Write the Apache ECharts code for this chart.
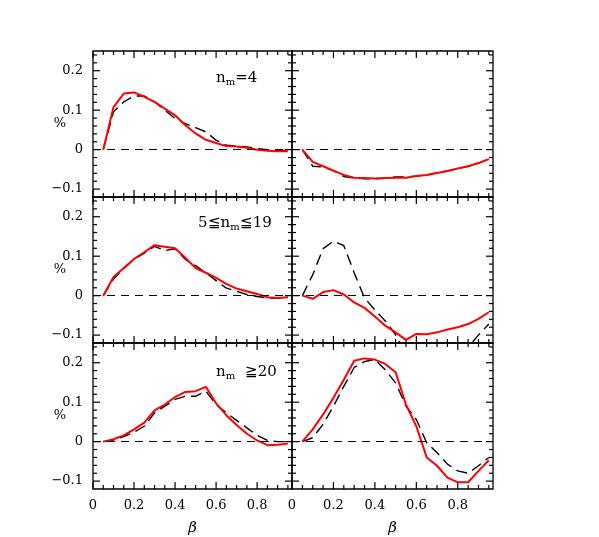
<html>
<head>
    <meta charset="utf-8"/>
    <title>beta panels</title>
    <script src="https://cdn.jsdelivr.net/npm/echarts@6/dist/echarts.min.js"></script>
    <style>
        html, body { margin: 0; background: #fff; }
        #main { width: 599px; height: 537px; }
    </style>
</head>
<body>
<div id="main"></div>
<script type="text/javascript">
    // beta sample points
    var beta = [0.05, 0.1, 0.15, 0.2, 0.25, 0.3, 0.35, 0.4, 0.45, 0.5,
                0.55, 0.6, 0.65, 0.7, 0.75, 0.8, 0.85, 0.9, 0.95];

    // top row: n_m = 4
    var red1  = [0, 0.108, 0.142, 0.145, 0.134, 0.121, 0.104, 0.087, 0.062, 0.041, 0.025, 0.017, 0.009, 0.008, 0.005, 0, -0.003, -0.004, -0.004];
    var dash1 = [0, 0.096, 0.121, 0.136, 0.136, 0.121, 0.100, 0.079, 0.066, 0.056, 0.045, 0.024, 0.011, 0.009, 0.007, 0.003, 0, -0.002, -0.002];
    var red2  = [0, -0.031, -0.042, -0.053, -0.064, -0.071, -0.072, -0.073, -0.072, -0.071, -0.071, -0.067, -0.064, -0.059, -0.054, -0.048, -0.042, -0.034, -0.024];
    var dash2 = [0, -0.042, -0.044, -0.053, -0.068, -0.072, -0.074, -0.074, -0.072, -0.069, -0.069, -0.067, -0.064, -0.059, -0.054, -0.048, -0.042, -0.034, -0.024];

    // middle row: 5 <= n_m <= 19
    var red3  = [0, 0.047, 0.070, 0.093, 0.110, 0.128, 0.124, 0.120, 0.096, 0.070, 0.058, 0.045, 0.030, 0.018, 0.011, 0.004, -0.004, -0.006, -0.004];
    var dash3 = [0, 0.042, 0.069, 0.092, 0.108, 0.125, 0.114, 0.119, 0.092, 0.076, 0.058, 0.038, 0.019, 0.011, 0.003, -0.002, -0.006, -0.006, -0.004];
    var red4  = [0, -0.008, 0.009, 0.014, 0.003, -0.017, -0.031, -0.053, -0.076, -0.093, -0.112, -0.097, -0.098, -0.093, -0.086, -0.080, -0.072, -0.059, -0.042];
    var dash4 = [0, 0.053, 0.119, 0.138, 0.127, 0.058, -0.006, -0.036, -0.064, -0.099, -0.150, -0.190, -0.220, -0.230, -0.210, -0.170, -0.130, -0.100, -0.072];

    // bottom row: n_m >= 20
    var red5  = [0, 0.006, 0.016, 0.031, 0.048, 0.079, 0.094, 0.113, 0.126, 0.128, 0.139, 0.097, 0.067, 0.042, 0.020, 0.003, -0.009, -0.008, -0.005];
    var dash5 = [0, 0.004, 0.013, 0.024, 0.039, 0.073, 0.090, 0.107, 0.115, 0.115, 0.128, 0.094, 0.073, 0.054, 0.035, 0.016, 0.003, 0, 0];
    var red6  = [0, 0.031, 0.069, 0.111, 0.157, 0.205, 0.211, 0.208, 0.197, 0.176, 0.094, 0.039, -0.040, -0.061, -0.091, -0.103, -0.103, -0.074, -0.047];
    var dash6 = [0, 0.010, 0.044, 0.090, 0.140, 0.188, 0.203, 0.208, 0.182, 0.149, 0.090, 0.056, -0.003, -0.028, -0.057, -0.074, -0.080, -0.061, -0.040];

    var redSets = [red1, red2, red3, red4, red5, red6];
    var dashSets = [dash1, dash2, dash3, dash4, dash5, dash6];

    // axis ranges and tick positions
    var xRange = [0, 0.97], yRange = [-0.12, 0.25];
    var xMajor = [0, 0.2, 0.4, 0.6, 0.8];
    var xMinor = [0.05, 0.1, 0.15, 0.25, 0.3, 0.35, 0.45, 0.5, 0.55, 0.65, 0.7, 0.75, 0.85, 0.9, 0.95];
    var yMajor = [-0.1, 0, 0.1, 0.2];
    var yMinor = [-0.08, -0.06, -0.04, -0.02, 0.02, 0.04, 0.06, 0.08, 0.12, 0.14, 0.16, 0.18, 0.22, 0.24];

    var font = 'DejaVu Serif';
    var lefts = [93, 292], widths = [199, 201], tops = [51, 197, 343];

    function pairs(ys) {
        var out = [];
        for (var i = 0; i < beta.length; i++) out.push([beta[i], ys[i]]);
        return out;
    }
    function fmt(v) {
        var r = Math.round(v * 10) / 10;
        if (Math.abs(r - v) > 1e-6) return '';
        return String(r).replace('-', '\u2212');
    }

    // tick rows: [value, 0 = x tick / 1 = y tick, length in px]
    var tickData = [];
    xMajor.forEach(function (v) { tickData.push([v, 0, 7]); });
    xMinor.forEach(function (v) { tickData.push([v, 0, 4]); });
    yMajor.forEach(function (v) { tickData.push([v, 1, 7]); });
    yMinor.forEach(function (v) { tickData.push([v, 1, 4]); });

    // inward ticks on both opposite sides of a panel
    function renderTick(params, api) {
        var v = api.value(0), kind = api.value(1), len = api.value(2);
        var st = {stroke: '#000', lineWidth: 1.2};
        var a, b;
        if (kind === 0) {
            a = api.coord([v, yRange[0]]);
            b = api.coord([v, yRange[1]]);
            return {type: 'group', children: [
                {type: 'line', shape: {x1: a[0], y1: a[1], x2: a[0], y2: a[1] - len}, style: st},
                {type: 'line', shape: {x1: b[0], y1: b[1], x2: b[0], y2: b[1] + len}, style: st}
            ]};
        }
        a = api.coord([xRange[0], v]);
        b = api.coord([xRange[1], v]);
        return {type: 'group', children: [
            {type: 'line', shape: {x1: a[0], y1: a[1], x2: a[0] + len, y2: a[1]}, style: st},
            {type: 'line', shape: {x1: b[0], y1: b[1], x2: b[0] - len, y2: b[1]}, style: st}
        ]};
    }

    var grids = [], xAxes = [], yAxes = [], series = [];
    for (var g = 0; g < 6; g++) {
        var col = g % 2, row = Math.floor(g / 2);
        grids.push({left: lefts[col], top: tops[row], width: widths[col], height: 146,
            show: true, borderColor: '#000', borderWidth: 1.3, backgroundColor: 'transparent'});

        xAxes.push({
            gridIndex: g, type: 'value', min: xRange[0], max: xRange[1], splitNumber: 5,
            name: row === 2 ? 'β' : '', nameLocation: 'middle', nameGap: 32, nameMoveOverlap: false,
            nameTextStyle: {fontFamily: font, fontSize: 15, fontStyle: 'italic', color: '#000'},
            axisLine: {show: false, onZero: false},
            axisTick: {show: false},
            axisLabel: {show: row === 2, formatter: fmt, margin: 10, showMaxLabel: false,
                hideOverlap: false, fontFamily: font, fontSize: 13, color: '#000'},
            splitLine: {show: false}
        });
        yAxes.push({
            gridIndex: g, type: 'value', min: yRange[0], max: yRange[1], splitNumber: 5,
            name: col === 0 ? '%' : '', nameLocation: 'middle', nameGap: 27, nameRotate: 0,
            nameMoveOverlap: false,
            nameTextStyle: {fontFamily: font, fontSize: 13, color: '#000'},
            axisLine: {show: false, onZero: false},
            axisTick: {show: false},
            axisLabel: {show: col === 0, formatter: fmt, margin: 10, showMinLabel: false,
                showMaxLabel: false, hideOverlap: false, fontFamily: font, fontSize: 13, color: '#000'},
            splitLine: {show: false}
        });

        series.push({
            type: 'custom', xAxisIndex: g, yAxisIndex: g, data: tickData,
            renderItem: renderTick, silent: true, clip: false, z: 3,
            encode: {x: -1, y: -1}
        });
        series.push({
            type: 'line', xAxisIndex: g, yAxisIndex: g, data: pairs(dashSets[g]),
            showSymbol: false, symbol: 'none', silent: true,
            lineStyle: {color: '#000', width: 1.4, type: [11, 6]},
            markLine: {
                silent: true, symbol: 'none', label: {show: false},
                lineStyle: {color: '#000', width: 1.2, type: [8, 6]},
                data: [{yAxis: 0}]
            }
        });
        series.push({
            type: 'line', xAxisIndex: g, yAxisIndex: g, data: pairs(redSets[g]),
            showSymbol: false, symbol: 'none', silent: true,
            lineStyle: {color: '#ff0000', width: 2}
        });
    }

    var sub = {
        n: {fontFamily: font, fontSize: 15, lineHeight: 18, color: '#000'},
        s: {fontFamily: font, fontSize: 10, lineHeight: 6, verticalAlign: 'bottom', color: '#000'}
    };
    function note(x, y, text) {
        return {type: 'text', x: x, y: y, silent: true,
            style: {text: text, rich: sub, verticalAlign: 'top', textVerticalAlign: 'top'}};
    }

    var myChart = echarts.init(document.getElementById('main'));
    myChart.setOption({
        animation: false,
        backgroundColor: '#fff',
        grid: grids,
        xAxis: xAxes,
        yAxis: yAxes,
        series: series,
        graphic: [
            note(216, 69, '{n|n}{s|m}{n|=4}'),
            note(198, 214, '{n|5\u2266n}{s|m}{n|\u226619}'),
            note(216, 363, '{n|n}{s|m}{n|  \u226720}')
        ]
    });
</script>
</body>
</html>
